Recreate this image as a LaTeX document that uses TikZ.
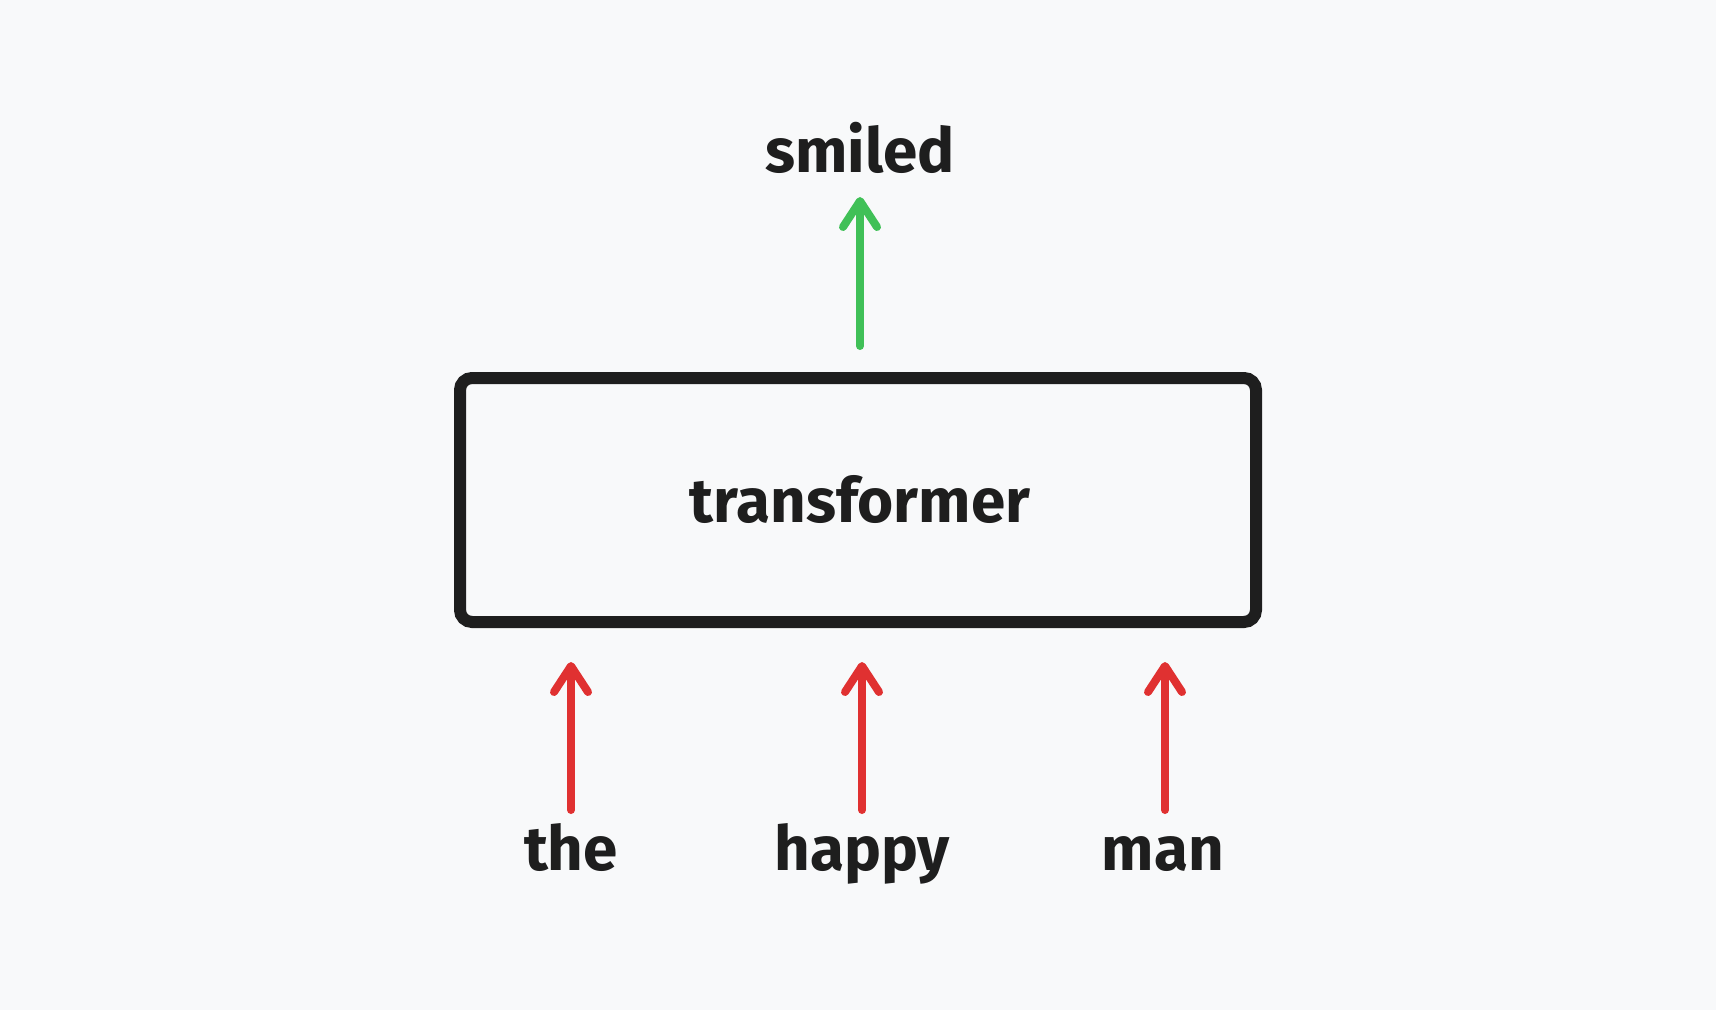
\documentclass[tikz,border=0pt]{standalone}
\usepackage{fontspec}
\setmainfont{Fira Sans}
\usetikzlibrary{arrows.meta}
\definecolor{bg}{HTML}{F8F9FA}
\definecolor{ink}{HTML}{1E1E1E}
\definecolor{exred}{HTML}{E03131}
\definecolor{exgreen}{HTML}{40C057}
\begin{document}
\begin{tikzpicture}[x=0.5pt,y=-0.5pt,
  lbl/.style={inner sep=0pt, anchor=base, text=ink, font=\fontsize{31}{36}\selectfont\bfseries},
  bigbox/.style={draw=ink, line width=6pt, rounded corners=6pt, minimum width=398pt, minimum height=122pt, inner sep=0pt},
  arr/.style={line width=4pt, line cap=round, -{Straight Barb[length=13pt,width=17pt,line width=4pt,round]}},
]
\fill[bg] (0,0) rectangle (1716,1010);
\useasboundingbox (0,0) rectangle (1716,1010);
\node[bigbox] (box) at (858,500) {};
\node[lbl] (tr) at (860,522) {transformer};
\node[lbl] (smiled) at (860,173) {smiled};
\node[lbl] (the) at (571,870) {the};
\node[lbl] (happy) at (862,870) {happy};
\node[lbl] (man) at (1163,870) {man};
\coordinate (gs) at (860,346);
\coordinate (gt) at (860,197);
\draw[arr, exgreen] (gs) -- (gt);
\coordinate (r1s) at (571,810);
\coordinate (r1t) at (571,662);
\coordinate (r2s) at (862,810);
\coordinate (r2t) at (862,662);
\coordinate (r3s) at (1165,810);
\coordinate (r3t) at (1165,662);
\draw[arr, exred] (r1s) -- (r1t);
\draw[arr, exred] (r2s) -- (r2t);
\draw[arr, exred] (r3s) -- (r3t);
\end{tikzpicture}
\end{document}
